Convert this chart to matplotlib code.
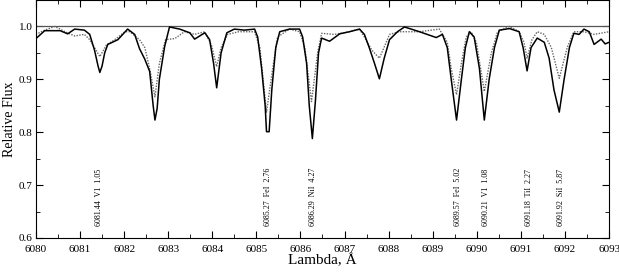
import matplotlib
matplotlib.use("Agg")
import matplotlib.pyplot as plt
from matplotlib.ticker import MultipleLocator

plt.rcParams['font.family'] = ['Liberation Serif', 'DejaVu Serif']

# observed spectrum (solid)
obs_wl = [6080.0, 6080.2, 6080.55, 6080.72, 6080.88, 6081.1, 6081.22, 6081.33, 6081.41, 6081.45,
          6081.5, 6081.56, 6081.63, 6081.86, 6082.08, 6082.24, 6082.35, 6082.47, 6082.58, 6082.66, 6082.7,
          6082.75, 6082.8, 6082.92, 6083.03, 6083.26, 6083.49, 6083.6, 6083.83, 6083.94, 6084.03,
          6084.1, 6084.2, 6084.33, 6084.5, 6084.73, 6084.96, 6085.03, 6085.12, 6085.2,
          6085.23, 6085.29, 6085.35, 6085.44, 6085.53, 6085.75, 6085.98, 6086.05, 6086.14,
          6086.2, 6086.27, 6086.34, 6086.41, 6086.48, 6086.66, 6086.89, 6087.11, 6087.34,
          6087.45, 6087.56, 6087.68, 6087.79, 6087.9, 6088.02, 6088.2, 6088.36, 6088.7,
          6089.08, 6089.22, 6089.33, 6089.42, 6089.54, 6089.65, 6089.74, 6089.83, 6089.94,
          6090.06, 6090.17, 6090.28, 6090.4, 6090.51, 6090.74, 6090.96, 6091.05, 6091.14,
          6091.23, 6091.37, 6091.53, 6091.64, 6091.75, 6091.87, 6091.98, 6092.1, 6092.2,
          6092.32, 6092.43, 6092.55, 6092.66, 6092.82, 6092.91, 6093.0]
obs_flux = [0.977, 0.992, 0.992, 0.986, 0.995, 0.993, 0.985, 0.955, 0.925, 0.913,
            0.925, 0.95, 0.966, 0.975, 0.995, 0.985, 0.958, 0.938, 0.915, 0.85, 0.823,
            0.845, 0.9, 0.962, 0.999, 0.995, 0.988, 0.976, 0.988, 0.975, 0.93,
            0.884, 0.95, 0.988, 0.995, 0.993, 0.995, 0.98, 0.92, 0.85,
            0.801, 0.801, 0.88, 0.96, 0.99, 0.995, 0.995, 0.98, 0.93,
            0.85, 0.788, 0.86, 0.95, 0.978, 0.972, 0.986, 0.99, 0.995,
            0.985, 0.96, 0.93, 0.901, 0.94, 0.975, 0.99, 0.999, 0.99,
            0.979, 0.985, 0.96, 0.9, 0.823, 0.9, 0.96, 0.99, 0.98,
            0.92, 0.823, 0.9, 0.96, 0.993, 0.996, 0.99, 0.96, 0.916,
            0.96, 0.978, 0.97, 0.94, 0.88, 0.838, 0.9, 0.96, 0.987,
            0.985, 0.995, 0.99, 0.966, 0.976, 0.967, 0.97]

# synthetic spectrum (dotted)
syn_wl = [6080.0, 6080.2, 6080.43, 6080.66, 6080.88, 6081.1, 6081.22, 6081.33, 6081.45,
          6081.6, 6081.79, 6082.02, 6082.13, 6082.35, 6082.47, 6082.58, 6082.7, 6082.8,
          6082.94, 6083.15, 6083.37, 6083.6, 6083.83, 6083.98, 6084.1, 6084.2, 6084.35,
          6084.6, 6084.96, 6085.08, 6085.23, 6085.37, 6085.48, 6085.75, 6085.98, 6086.1,
          6086.25, 6086.39, 6086.48, 6086.77, 6087.11, 6087.34, 6087.45, 6087.62, 6087.79,
          6087.92, 6088.02, 6088.24, 6088.7, 6089.15, 6089.33, 6089.42, 6089.54, 6089.65,
          6089.76, 6089.87, 6089.99, 6090.17, 6090.33, 6090.47, 6090.74, 6090.96, 6091.07,
          6091.14, 6091.25, 6091.37, 6091.53, 6091.69, 6091.87, 6092.05, 6092.2, 6092.43,
          6092.66, 6093.0]
syn_flux = [0.985, 0.993, 1.0, 0.99, 0.982, 0.985, 0.975, 0.96, 0.943,
            0.965, 0.975, 0.99, 0.99, 0.975, 0.96, 0.92, 0.867, 0.93,
            0.975, 0.977, 0.99, 0.985, 0.99, 0.965, 0.924, 0.96, 0.985,
            0.99, 0.99, 0.96, 0.838, 0.92, 0.98, 0.995, 0.99, 0.96,
            0.858, 0.95, 0.987, 0.985, 0.99, 0.995, 0.98, 0.955, 0.94,
            0.965, 0.985, 0.99, 0.99, 0.995, 0.97, 0.92, 0.871, 0.93,
            0.98, 0.99, 0.97, 0.877, 0.95, 0.99, 1.0, 0.99, 0.97,
            0.94, 0.975, 0.99, 0.985, 0.96, 0.902, 0.96, 0.99, 0.99,
            0.985, 0.99]

# line identifications
line_wl = [6081.44, 6085.27, 6086.29, 6089.57, 6090.21, 6091.18, 6091.92]
line_ion = ["V1", "FeI", "NiI", "FeI", "V1", "TiI", "SiI"]
line_ep = ["1.05", "2.76", "4.27", "5.02", "1.08", "2.27", "5.87"]

fig = plt.figure(figsize=(6.19, 2.72), dpi=100)
ax = fig.add_axes([0.058, 0.125, 0.926, 0.875])

ax.axhline(1.0, color="#555555", lw=0.9)
ax.plot(syn_wl, syn_flux, color="#666666", lw=1.0, ls=(0, (1, 1)))
ax.plot(obs_wl, obs_flux, color="black", lw=1.1)

for wl, ion, ep in zip(line_wl, line_ion, line_ep):
    ax.text(wl, 0.622, f"{wl:.2f}  {ion}  {ep}", rotation=90, ha="center",
            va="bottom", fontsize=5.8)

ax.set_xlim(6080, 6093)
ax.set_ylim(0.6, 1.05)
ax.xaxis.set_major_locator(MultipleLocator(1))
ax.xaxis.set_minor_locator(MultipleLocator(0.5))
ax.yaxis.set_major_locator(MultipleLocator(0.1))
ax.yaxis.set_minor_locator(MultipleLocator(0.05))
ax.yaxis.set_major_formatter(matplotlib.ticker.FormatStrFormatter("%.1f"))
ax.tick_params(which="both", direction="in", top=True, right=True, labelsize=8)
ax.tick_params(axis="y", pad=2.5)
ax.tick_params(axis="x", pad=5)
ax.tick_params(which="major", length=5)
ax.tick_params(which="minor", length=3)
ax.set_xlabel("Lambda, Å", fontsize=11, labelpad=0)
ax.set_ylabel("Relative Flux", fontsize=10, labelpad=2)

fig.savefig("out.png", dpi=100)
